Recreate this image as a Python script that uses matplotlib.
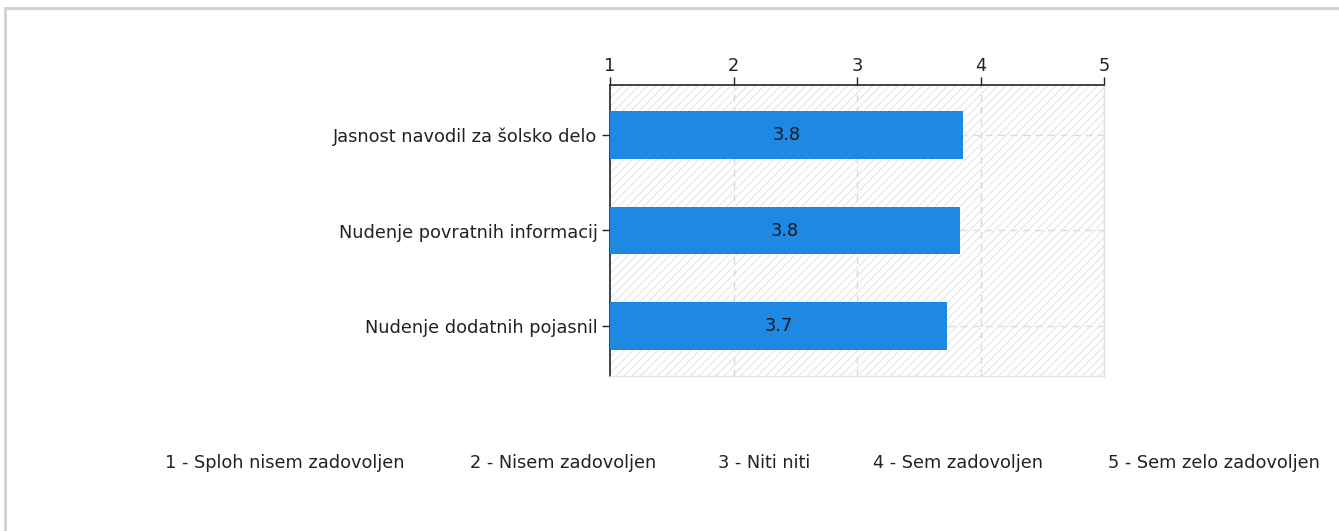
import numpy as np
import matplotlib.pyplot as plt
from matplotlib.patches import Rectangle
from matplotlib.lines import Line2D

categories = ["Jasnost navodil za šolsko delo",
              "Nudenje povratnih informacij",
              "Nudenje dodatnih pojasnil"]
values = [3.86, 3.83, 3.73]
value_labels = ["3.8", "3.8", "3.7"]
ticks = [1, 2, 3, 4, 5]
scale_labels = ["1 - Sploh nisem zadovoljen", "2 - Nisem zadovoljen",
                "3 - Niti niti", "4 - Sem zadovoljen", "5 - Sem zelo zadovoljen"]

plt.rcParams['font.family'] = ['DejaVu Sans']
plt.rcParams['hatch.linewidth'] = 0.7
plt.rcParams['hatch.color'] = '#e2e2e2'
FS = 12.8

W, H = 1339, 531
fig = plt.figure(figsize=(W / 100, H / 100), dpi=100)
ax = fig.add_axes([610 / W, 1 - 376 / H, (1104 - 610) / W, (376 - 85) / H])

# hatched background
ax.add_patch(Rectangle((0, 0), 1, 1, transform=ax.transAxes, facecolor='white',
                       edgecolor='#e2e2e2', hatch='////', lw=0, zorder=0))

y = np.arange(len(categories))
ax.barh(y, np.array(values) - 1, left=1, height=0.5, color='#1f88e3', zorder=3)
for yi, v, lab in zip(y, values, value_labels):
    ax.text((1 + v) / 2, yi, lab, ha='center', va='center', fontsize=FS,
            color='#1a1a1a', zorder=4)

ax.set_xlim(1, 5)
ax.set_ylim(len(categories) - 0.48, -0.52)
ax.set_xticks(ticks)
ax.xaxis.tick_top()
ax.tick_params(axis='x', direction='out', length=6, width=1, color='#222222',
               labelsize=FS, labelcolor='#222222', pad=1)
ax.set_yticks(y)
ax.set_yticklabels(categories)
ax.tick_params(axis='y', direction='out', length=6, width=1, color='#222222',
               labelsize=FS, labelcolor='#222222', pad=3)

for t in ticks[1:]:
    ax.axvline(t, color='#d8d8d8', lw=1, ls=(0, (5, 4)), zorder=1)
for yi in y:
    ax.axhline(yi, color='#dcdcdc', lw=1, ls=(0, (5, 4)), zorder=1)

for side in ['top', 'left']:
    ax.spines[side].set_color('#222222')
    ax.spines[side].set_linewidth(1.2)
for side in ['right', 'bottom']:
    ax.spines[side].set_color('#e0e0e0')
    ax.spines[side].set_linewidth(1)

# legend of scale
legend_x = [165, 470, 718, 873, 1108]
for x, lab in zip(legend_x, scale_labels):
    fig.text(x / W, 1 - 463 / H, lab, ha='left', va='center', fontsize=FS,
             color='#222222')

# outer frame
fig.add_artist(Line2D([5 / W, 1], [1 - 8 / H, 1 - 8 / H], color='#d0d0d0', lw=2,
                      transform=fig.transFigure))
fig.add_artist(Line2D([5 / W, 5 / W], [0, 1 - 8 / H], color='#d0d0d0', lw=2,
                      transform=fig.transFigure))

fig.savefig('out.png', dpi=100, facecolor='white')
